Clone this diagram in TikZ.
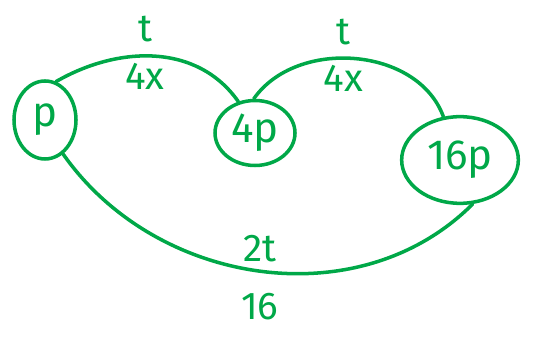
\documentclass[tikz,border=0pt]{standalone}
\usepackage{fontspec}
\setmainfont{Fira Sans}
\usetikzlibrary{shapes.geometric}
\definecolor{pen}{RGB}{0,168,72}
\begin{document}
\begin{tikzpicture}[x=0.03cm, y=0.03cm, line width=3pt, draw=pen, text=pen, line cap=round,
  state/.style={draw, ellipse, inner sep=0pt, font=\fontsize{36}{38}\selectfont},
  lbl/.style={font=\fontsize{33}{35}\selectfont, inner sep=2pt}]
\useasboundingbox (0,0) rectangle (540,346);
\node[state, minimum width=1.86cm, minimum height=2.34cm] (p) at (45,226) {p};
\node[state, minimum width=2.4cm, minimum height=1.95cm] (4p) at (255,213) {4p};
\node[state, minimum width=3.5cm, minimum height=2.6cm] (16p) at (460,186) {16p};
% cost of each route
\draw (p.74) to[out=30, in=125] node[lbl, above=8pt, pos=0.45] {t} node[lbl, below=3pt, pos=0.45] {4x} (4p.118);
\draw (4p.92) to[out=55, in=110] node[lbl, above=8pt, pos=0.45] {t} node[lbl, below=3pt, pos=0.45] {4x} (16p.111);
\draw (p.-62) to[out=-55, in=-135] node[lbl, above=4pt] {2t} node[lbl, below=15pt] {16} (16p.-74);
\end{tikzpicture}
\end{document}
